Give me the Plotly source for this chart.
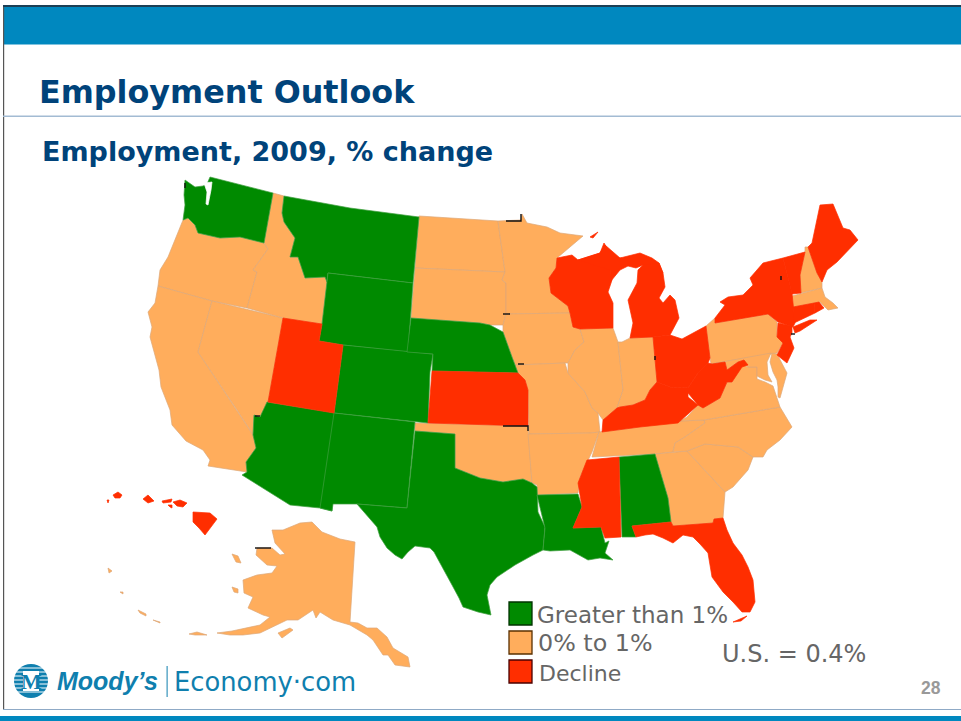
import plotly.graph_objects as go

GREEN, ORANGE, RED = "#008A00", "#FFAD5C", "#FF2E00"
GREEN_EDGE, ORANGE_EDGE, RED_EDGE = "#3F9F3F", "#DCA878", "#FF2E00"

# --- state outlines (x, y in picture pixels) ---
WA = [(185,180),(195,187),(203,186),(207,184),(210,177),(273,193),(264,243),(240,237),(220,238),(198,233),(195,225),(188,218),(183,220),(185,205),(184,195)]
PUGET = [(204,183),(212,182),(211,190),(208,205),(206,204),(207,192)]
OR = [(183,220),(188,218),(195,225),(198,233),(220,238),(240,237),(264,243),(268,249),(253,270),(257,272),(247,308),(212,301),(158,286),(160,270),(168,257)]
CA = [(158,286),(212,301),(198,352),(237,410),(250,430),(253,435),(256,448),(246,462),(247,472),(208,466),(210,460),(203,450),(186,441),(172,425),(170,410),(161,387),(159,370),(155,355),(150,337),(152,327),(148,312),(155,303)]
NV = [(212,301),(283,318),(268,402),(260,417),(254,415),(253,435),(250,430),(237,410),(198,352)]
ID = [(273,193),(284,196),(282,213),(284,222),(295,238),(290,257),(298,257),(305,278),(325,277),(327,282),(322,324),(283,318),(247,308),(257,272),(253,270),(268,249),(264,243)]
MT = [(284,196),(350,208),(419,217),(413,283),(328,273),(327,282),(325,277),(305,278),(298,257),(290,257),(295,238),(284,222),(282,213)]
WY = [(328,273),(413,283),(408,352),(343,345),(319,341),(322,324)]
UT = [(283,318),(322,324),(319,341),(343,345),(334,413),(268,402)]
AZ = [(267,402),(335,413),(332,511),(320,508),(290,505),(242,475),(247,472),(246,462),(256,448),(253,435),(254,415),(260,417)]
NM = [(334,413),(415,422),(407,508),(357,504),(333,504),(332,511),(320,508)]
CO = [(343,345),(408,352),(433,354),(430,372),(428,423),(334,413)]
ND = [(419,216),(498,221),(505,272),(415,268)]
SD = [(415,268),(505,272),(502,280),(506,283),(506,314),(503,325),(490,325),(480,323),(411,318)]
NE = [(411,318),(480,323),(490,325),(503,332),(512,357),(518,373),(432,371),(433,354),(407,352)]
KS = [(432,371),(518,373),(525,380),(528,390),(528,426),(428,423)]
OK = [(415,423),(528,426),(532,483),(523,479),(503,482),(480,478),(455,468),(455,434),(415,431)]
TX = [(415,431),(455,434),(455,468),(480,478),(503,482),(523,479),(532,483),(537,487),(538,512),(545,527),(543,550),(533,555),(515,565),(497,577),(490,585),(487,595),(491,615),(478,612),(463,607),(459,598),(452,585),(440,563),(434,552),(430,548),(415,546),(408,552),(402,559),(395,555),(387,548),(380,537),(377,527),(357,504),(407,508)]
MN = [(498,221),(521,220),(522,214),(527,223),(547,227),(560,233),(583,236),(557,258),(556,268),(549,278),(551,293),(568,306),(570,313),(506,314),(506,283),(502,280),(505,272)]
IA = [(506,314),(570,313),(573,327),(580,329),(584,342),(575,350),(568,363),(565,363),(515,365),(512,357),(503,332),(503,325)]
MO = [(515,365),(565,363),(568,373),(585,392),(592,408),(598,413),(600,432),(591,433),(529,434),(528,390),(525,380),(518,373)]
AR = [(528,434),(591,433),(599,432),(592,452),(580,477),(578,493),(537,495),(537,485),(532,483)]
LA = [(537,495),(578,494),(582,507),(573,528),(601,527),(605,543),(609,541),(605,553),(613,560),(600,558),(588,560),(570,550),(550,551),(543,550),(545,528)]
WI = [(557,258),(572,255),(578,260),(600,253),(604,243),(613,258),(622,258),(610,270),(612,280),(608,292),(613,303),(613,328),(580,329),(573,327),(570,313),(568,306),(551,293),(549,278),(556,268)]
UP = [(578,260),(600,253),(605,245),(620,258),(640,253),(652,258),(659,263),(663,273),(650,270),(643,265),(636,268),(628,266),(620,270),(611,281),(610,270)]
KEWEENAW = [(590,237),(598,232),(593,238)]
LP = [(643,265),(659,263),(663,273),(665,287),(659,298),(663,303),(670,295),(675,300),(679,318),(670,335),(653,337),(630,338),(633,323),(628,300),(637,283),(638,270)]
IL = [(580,329),(613,328),(618,342),(623,390),(617,408),(603,420),(598,413),(592,408),(585,392),(568,373),(568,363),(575,350),(584,342)]
IN = [(630,338),(653,337),(657,382),(650,390),(645,400),(633,405),(620,407),(617,408),(623,390),(618,342),(622,342)]
OH = [(653,337),(670,335),(682,339),(706,326),(710,358),(708,363),(698,373),(693,380),(688,388),(682,387),(673,388),(657,382)]
KY = [(620,407),(633,405),(645,400),(650,390),(657,382),(673,388),(682,387),(688,388),(688,397),(698,405),(678,423),(640,427),(602,432),(603,420),(617,408)]
TN = [(599,432),(618,430),(680,421),(704,420),(705,423),(685,437),(675,443),(673,452),(655,454),(592,457)]
MS = [(587,460),(619,457),(621,537),(605,538),(601,527),(573,528),(582,507),(578,483)]
AL = [(619,457),(655,454),(668,498),(671,522),(632,526),(636,537),(622,537)]
GA = [(655,454),(687,451),(725,492),(723,518),(714,519),(713,523),(673,526),(671,522),(668,498)]
FL = [(632,526),(671,522),(673,526),(713,523),(714,519),(723,518),(727,530),(733,543),(742,555),(748,567),(753,580),(755,602),(750,612),(742,612),(733,602),(723,592),(712,577),(710,565),(708,553),(700,544),(693,537),(683,535),(673,543),(663,538),(653,534),(645,535),(636,537)]
FL_KEYS = [(733,622),(747,616),(741,621)]
SC = [(687,451),(705,444),(738,447),(753,457),(748,470),(733,487),(725,492)]
NC = [(704,420),(780,407),(792,427),(780,440),(767,450),(763,457),(753,457),(738,447),(705,444),(687,451),(673,452),(675,443),(685,437),(705,423)]
VA = [(680,421),(687,417),(698,405),(703,408),(720,398),(727,382),(732,382),(741,363),(748,367),(757,367),(757,379),(765,382),(773,386),(775,392),(777,400),(780,407),(704,420)]
WV = [(708,363),(712,364),(725,362),(727,370),(738,362),(744,360),(748,365),(742,367),(732,382),(727,382),(720,398),(703,408),(698,405),(688,393),(688,388),(693,380),(698,373)]
PA = [(706,326),(715,318),(715,323),(768,314),(777,322),(777,337),(783,343),(777,353),(711,364),(710,358)]
NY = [(715,323),(715,318),(725,305),(720,302),(728,297),(743,295),(753,285),(750,278),(763,263),(783,258),(792,293),(795,323),(793,327),(778,322),(768,314)]
LI = [(793,327),(810,320),(817,320),(800,331),(795,333)]
VT = [(783,258),(805,252),(800,275),(801,293),(792,294)]
NH = [(805,247),(808,247),(817,273),(822,282),(822,288),(801,293),(800,275),(805,252)]
ME = [(808,247),(812,243),(820,205),(833,204),(843,228),(850,230),(858,240),(842,257),(837,262),(827,270),(822,282),(817,273)]
MA = [(792,296),(822,288),(825,297),(833,303),(838,308),(828,310),(820,302),(793,307)]
CT = [(793,307),(814,303),(815,313),(794,323)]
RI = [(814,303),(819,302),(824,308),(815,313)]
NJ = [(778,323),(792,326),(792,333),(790,337),(794,348),(787,363),(777,355),(783,343),(777,337)]
MD = [(711,364),(771,353),(767,362),(768,375),(772,382),(765,380),(757,376),(757,367),(748,367),(744,360),(738,362),(727,370),(725,362)]
DELMARVA = [(772,353),(777,354),(787,373),(780,398),(778,397),(778,387),(777,380),(773,372),(770,362)]
AK = [(272,530),(283,530),(300,523),(312,522),(322,532),(340,539),(355,542),(350,622),(358,623),(367,628),(377,628),(387,637),(393,648),(408,657),(410,667),(395,665),(388,655),(383,655),(373,640),(367,635),(350,625),(333,620),(320,612),(316,618),(313,610),(298,620),(287,620),(273,627),(260,633),(243,635),(230,635),(217,633),(232,631),(260,625),(270,617),(263,615),(252,610),(248,608),(253,597),(244,593),(243,580),(257,575),(272,573),(277,566),(267,565),(256,555),(257,548),(272,548),(280,555),(285,554),(275,543)]
KODIAK = [(278,633),(290,628),(293,630),(282,638)]
ST_LAWRENCE = [(232,554),(238,556),(241,563),(236,562)]
NUNIVAK = [(232,587),(238,589),(238,593),(234,592)]
ALEUT_A = [(189,634),(197,632),(207,635),(195,635)]
ALEUT_B = [(138,610),(146,614),(146,616),(140,613)]
ALEUT_C = [(153,620),(160,622),(160,623)]
PRIBILOF = [(108,568),(112,571),(109,573)]
ALEUT_D = [(120,592),(123,592),(123,594)]
HI_BIG = [(193,512),(210,513),(217,519),(205,535),(199,528),(193,522)]
HI_MAUI = [(173,502),(180,500),(187,503),(183,507),(177,506)]
HI_MOLOKAI = [(162,501),(172,499),(171,502),(163,503)]
HI_LANAI = [(168,505),(172,505),(172,508),(170,507)]
HI_OAHU = [(143,499),(148,495),(154,501),(148,503)]
HI_KAUAI = [(113,495),(118,492),(122,495),(120,498),(115,498)]
HI_NIIHAU = [(107,500),(109,500),(108,503)]

GREATER_THAN_1 = [WA, MT, WY, CO, NE, AZ, NM, TX, LA, AL]
ZERO_TO_1 = [OR, CA, NV, ID, ND, SD, MN, IA, MO, OK, AR, IL, IN, TN, GA, SC, NC, VA, PA, NH, MA, MD, DELMARVA,
             AK, KODIAK, ST_LAWRENCE, NUNIVAK, ALEUT_A, ALEUT_B, ALEUT_C, PRIBILOF, ALEUT_D]
DECLINE = [UT, KS, WI, UP, KEWEENAW, LP, OH, KY, MS, FL, FL_KEYS, WV, NY, LI, VT, ME, CT, RI, NJ,
           HI_BIG, HI_MAUI, HI_MOLOKAI, HI_LANAI, HI_OAHU, HI_KAUAI, HI_NIIHAU]

# small dark fragments visible along the map's edges
SPECKS = [[(506,221),(521,221),(521,214)], [(503,314),(510,314)], [(503,426),(528,426),(528,431)],
          [(255,548),(271,548)], [(255,416),(260,416)], [(185,183),(185,188)], [(518,364),(524,364)],
          [(795,334),(791,334)], [(655,360),(655,356)], [(781,280),(781,276)]]

LEGEND_LABELS = ["Greater than 1%", "0% to 1%", "Decline"]
LEGEND_COLORS = [GREEN, ORANGE, RED]
LEGEND_EDGES = ["#003300", "#5A3000", "#4A0000"]
GLOBE_BANDS = [668, 672, 676, 680, 684, 688, 692]

fig = go.Figure()

def add_group(polys, fill, edge):
    for p in polys:
        xs = [q[0] for q in p] + [p[0][0]]
        ys = [q[1] for q in p] + [p[0][1]]
        fig.add_trace(go.Scatter(x=xs, y=ys, mode="lines", fill="toself", fillcolor=fill,
                                 line=dict(color=edge, width=0.7), hoverinfo="skip", showlegend=False))

add_group(ZERO_TO_1, ORANGE, ORANGE_EDGE)
add_group(GREATER_THAN_1, GREEN, GREEN_EDGE)
add_group(DECLINE, RED, RED_EDGE)
add_group([PUGET], "white", "white")

for s in SPECKS:
    fig.add_trace(go.Scatter(x=[q[0] for q in s], y=[q[1] for q in s], mode="lines",
                             line=dict(color="#111111", width=1.4), hoverinfo="skip", showlegend=False))

def rect(x0, y0, x1, y1, fill, line=None, w=0):
    return dict(type="rect", xref="x", yref="y", x0=x0, y0=y0, x1=x1, y1=y1, fillcolor=fill,
                line=dict(color=line or fill, width=w), layer="above")

shapes = [
    rect(3, 5, 961, 7, "#1C3F55"),
    rect(3, 7, 961, 44.5, "#0088BF"),
    rect(3, 7, 4.2, 710, "#555555"),
    rect(3, 115.5, 961, 117, "#A3BBD3"),
    rect(3, 709, 961, 710, "#8FAAC6"),
    rect(0, 716, 961, 721, "#0088BF"),
]
for i, (c, e) in enumerate(zip(LEGEND_COLORS, LEGEND_EDGES)):
    y0 = 602 + 29 * i
    shapes.append(rect(509, y0, 532, y0 + 23, c, e, 1.3))

# logo
shapes.append(dict(type="circle", xref="x", yref="y", x0=14, y0=664, x1=48, y1=698,
                   fillcolor="#0F7FAE", line=dict(width=0), layer="above"))
for b in GLOBE_BANDS:
    shapes.append(dict(type="line", xref="x", yref="y", x0=14, x1=48, y0=b, y1=b,
                       line=dict(color="white", width=1), layer="above"))
shapes.append(rect(23, 671, 39, 691, "white"))
shapes.append(rect(166.6, 666, 167.6, 697, "#0F7FAE"))

def text(x, y, s, size, color, family="DejaVu Sans", bold=False, italic=False, anchor="left"):
    t = f"<b>{s}</b>" if bold else s
    t = f"<i>{t}</i>" if italic else t
    fig.add_annotation(x=x, y=y, xref="x", yref="y", text=t, showarrow=False, xanchor=anchor, yanchor="middle",
                       font=dict(family=family, size=size, color=color), borderpad=0, borderwidth=0)

NAVY = "#00437A"
GREY = "#666666"
text(39, 91, "Employment Outlook", 31.8, NAVY, bold=True)
text(42, 151, "Employment, 2009, % change", 27, NAVY, bold=True)
text(537, 615, LEGEND_LABELS[0], 23, GREY)
text(538, 643, LEGEND_LABELS[1], 23.8, GREY)
text(539, 673, LEGEND_LABELS[2], 22, GREY)
text(722, 654, "U.S. = 0.4%", 24, GREY)
text(921, 688, "28", 17.5, "#999999", family="Liberation Sans", bold=True)
text(57, 681, "Moody’s", 25, "#0F7FAE", family="Liberation Sans", bold=True, italic=True)
text(174, 682, "Economy·com", 25.8, "#0F7FAE", family="DejaVu Sans")
text(31, 681, "M", 22, "#0F7FAE", family="Liberation Serif", bold=True, anchor="center")

fig.update_layout(
    width=961, height=721, margin=dict(l=0, r=0, t=0, b=0), autosize=False,
    paper_bgcolor="white", plot_bgcolor="white", shapes=shapes, showlegend=False,
    xaxis=dict(range=[0, 961], visible=False, fixedrange=True),
    yaxis=dict(range=[721, 0], visible=False, fixedrange=True),
)
fig.write_html("out.html", config=dict(displayModeBar=False),
               post_script="document.body.style.margin='0';document.body.style.overflow='hidden';")
